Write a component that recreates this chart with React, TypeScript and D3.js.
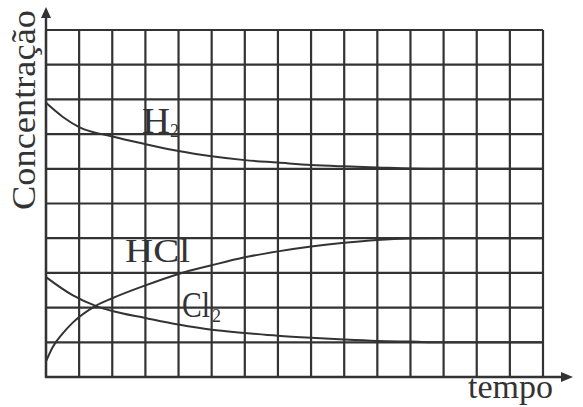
import React from "react";
import * as d3 from "d3";

const W = 583;
const H = 407;

// grid: 15 time units, 10 concentration units
const xTicks = d3.range(0, 16);
const yTicks = d3.range(0, 11);

const h2Time = [0, 0.5, 1, 2, 3, 4, 5, 6, 7, 8, 9, 10, 11, 12, 13, 14, 15];
const h2Values = [7.9, 7.5, 7.2, 6.93, 6.71, 6.51, 6.36, 6.25, 6.18, 6.11, 6.07, 6.04, 6.01, 6.0, 6.0, 6.0, 6.0];

const hclTime = [0, 0.2, 0.5, 0.8, 1.5, 2, 3, 4, 5, 6, 7, 8, 9, 10, 11, 12, 13, 14, 15];
const hclValues = [0.45, 0.86, 1.25, 1.56, 2.05, 2.27, 2.64, 2.97, 3.22, 3.45, 3.62, 3.76, 3.87, 3.95, 3.99, 4.0, 4.0, 4.0, 4.0];

const cl2Time = [0, 0.8, 1.5, 2, 3, 4, 5, 6, 7, 8, 9, 10, 11, 12, 13, 14, 15];
const cl2Values = [2.88, 2.36, 2.05, 1.9, 1.7, 1.51, 1.36, 1.27, 1.19, 1.13, 1.08, 1.04, 1.02, 1.0, 1.0, 1.0, 1.0];

const yLabel = "Concentração";
const xLabel = "tempo";

export default function App() {
  const x = d3.scaleLinear().domain([0, 15]).range([46, 543]);
  const y = d3.scaleLinear().domain([0, 10]).range([377, 30]);
  const line = (t: number[], v: number[]) =>
    d3
      .line<number>()
      .x((_, i) => x(t[i]))
      .y((d) => y(d))
      .curve(d3.curveMonotoneX)(v) || "";

  const ink = "#333";
  const font = "'Liberation Serif', 'Times New Roman', serif";

  return (
    <svg
      width={W}
      height={H}
      style={{ position: "absolute", left: 0, top: 0, background: "#fff" }}
    >
      <rect x={0} y={0} width={W} height={H} fill="#fff" />
      {/* grid */}
      {xTicks.map((t) => (
        <line key={"vx" + t} x1={x(t)} x2={x(t)} y1={y(0)} y2={y(10)} stroke={ink} strokeWidth={2.2} />
      ))}
      {yTicks.map((t) => (
        <line key={"hy" + t} x1={x(0)} x2={x(15)} y1={y(t)} y2={y(t)} stroke={ink} strokeWidth={2.2} />
      ))}
      {/* axes */}
      <line x1={x(0)} x2={x(0)} y1={y(0) + 1} y2={14} stroke={ink} strokeWidth={2.4} />
      <line x1={x(0) - 1} x2={566} y1={y(0)} y2={y(0)} stroke={ink} strokeWidth={2.4} />
      <path d={`M${x(0)},7 L${x(0) - 5},18 L${x(0) + 5},18 Z`} fill={ink} />
      <path d={`M573,${y(0)} L561,${y(0) - 5} L561,${y(0) + 5} Z`} fill={ink} />
      {/* curves */}
      <path d={line(h2Time, h2Values)} fill="none" stroke={ink} strokeWidth={2} />
      <path d={line(hclTime, hclValues)} fill="none" stroke={ink} strokeWidth={2} />
      <path d={line(cl2Time, cl2Values)} fill="none" stroke={ink} strokeWidth={2} />
      {/* labels */}
      <g fill={ink} fontFamily={font}>
        <text x={142} y={133} fontSize={35} textLength={28} lengthAdjust="spacingAndGlyphs">H</text>
        <text x={170} y={137} fontSize={18}>2</text>
        <text x={182} y={317} fontSize={35} textLength={28} lengthAdjust="spacingAndGlyphs">Cl</text>
        <text x={212} y={322} fontSize={18}>2</text>
        <text x={125} y={262} fontSize={34} textLength={65} lengthAdjust="spacingAndGlyphs">HCl</text>
        <text x={468} y={398} fontSize={34}>{xLabel}</text>
        <text
          transform={`translate(35,210) rotate(-90)`}
          fontSize={34}
          textLength={200}
          lengthAdjust="spacingAndGlyphs"
        >
          {yLabel}
        </text>
      </g>
    </svg>
  );
}
